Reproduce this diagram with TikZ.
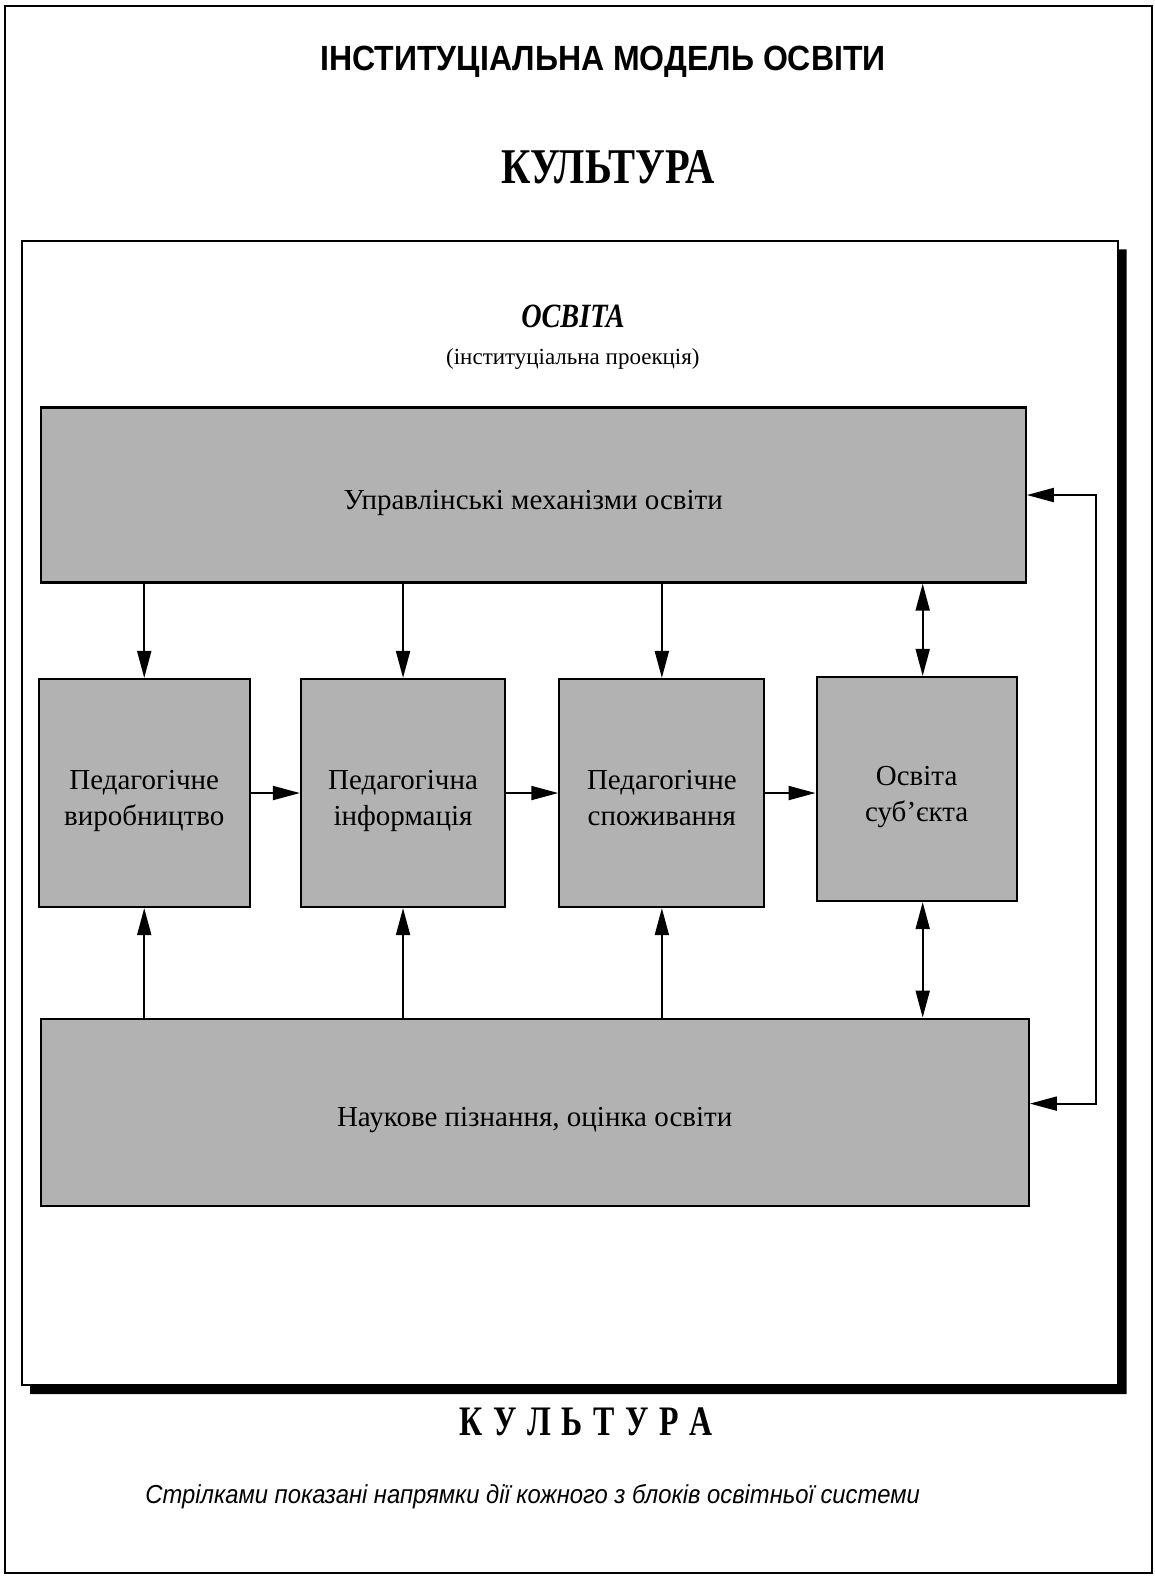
\documentclass[tikz,border=0pt]{standalone}
\usepackage{fontspec}
\usepackage{graphicx}
\setmainfont{Liberation Serif}
\newfontfamily\arialf{Liberation Sans}
\usetikzlibrary{arrows.meta}
\newcommand{\boxfont}{\fontsize{29}{36}\selectfont}
\newcommand{\lowtxt}[1]{\raisebox{-7pt}[\height][\depth]{\begin{tabular}{@{}c@{}}#1\end{tabular}}}
\begin{document}
\begin{tikzpicture}[x=1.005pt,y=-1.005pt,
  blk/.style={draw=black, line width=2.2pt, fill=black!30, inner sep=0pt, align=center, font=\boxfont},
  arr/.style={line width=1.9pt, -{Triangle[length=27pt,width=14pt]}},
  darr/.style={line width=1.9pt, {Triangle[length=27pt,width=14pt]}-{Triangle[length=27pt,width=14pt]}},
  lbl/.style={inner sep=0pt, anchor=base}]
\useasboundingbox (0,0) rectangle (1149,1568);
% outer frame
\draw[line width=1.6pt] (5,6) rectangle (1146,1565);
% inner frame with shadow
\fill[black] (30,1378) -- (1112,1378) -- (1112,248) -- (1121,248) -- (1121,1387) -- (30,1387) -- cycle;
\draw[line width=1.8pt] (22,240) rectangle (1112,1378);
% titles
\node[lbl] (title) at (600,70) {\scalebox{0.915}[1]{\arialf\bfseries\fontsize{35}{40}\selectfont ІНСТИТУЦІАЛЬНА МОДЕЛЬ ОСВІТИ}};
\node[lbl] (kult1) at (605,183) {\scalebox{0.81}[1]{\bfseries\fontsize{50}{56}\selectfont КУЛЬТУРА}};
\node[lbl] (osv) at (570,326) {\scalebox{0.83}[1]{\bfseries\itshape\fontsize{34}{40}\selectfont ОСВІТА}};
\node[lbl] (proj) at (570,363) {\fontsize{23}{28}\selectfont (інституціальна проекція)};
\node[lbl] (kult2) at (583,1428) {\scalebox{0.76}[1]{\bfseries\fontsize{42}{48}\selectfont К\kern14ptУ\kern14ptЛ\kern14ptЬ\kern14ptТ\kern14ptУ\kern14ptР\kern14ptА}};
\node[lbl] (note) at (530,1496) {\scalebox{0.915}[1]{\arialf\itshape\fontsize{26}{30}\selectfont Стрілками показані напрямки дії кожного з блоків освітньої системи}};
% blocks
\node[blk, minimum width=985pt, minimum height=175pt] (top) at (530.5,492.5) {\lowtxt{Управлінські механізми освіти}};
\node[blk, minimum width=211pt, minimum height=228pt] (p1) at (143.5,789) {\lowtxt{Педагогічне\\виробництво}};
\node[blk, minimum width=204pt, minimum height=228pt] (p2) at (401,789) {\lowtxt{Педагогічна\\інформація}};
\node[blk, minimum width=205pt, minimum height=228pt] (p3) at (658.5,789) {\lowtxt{Педагогічне\\споживання}};
\node[blk, minimum width=200pt, minimum height=224pt] (p4) at (912,785) {\lowtxt{Освіта\\суб'єкта}};
\node[blk, minimum width=988pt, minimum height=187pt] (bot) at (532,1106.5) {\lowtxt{Наукове пізнання, оцінка освіти}};
% top -> middle
\draw[arr] (top.south -| p1.north) -- (p1.north);
\draw[arr] (top.south -| p2.north) -- (p2.north);
\draw[arr] (top.south -| p3.north) -- (p3.north);
\draw[darr] (top.south -| 918,0) -- (p4.north -| 918,0);
% bottom -> middle
\draw[arr] (bot.north -| p1.south) -- (p1.south);
\draw[arr] (bot.north -| p2.south) -- (p2.south);
\draw[arr] (bot.north -| p3.south) -- (p3.south);
\draw[darr] (p4.south -| 918,0) -- (bot.north -| 918,0);
% horizontal chain
\draw[arr] (p1.east) -- (p2.west);
\draw[arr] (p2.east) -- (p3.west);
\draw[arr] (p3.east) -- (p4.west |- p3.east);
% feedback loop
\coordinate (fbT) at (1090,492.5);
\coordinate (fbB) at (1090,1098);
\draw[darr] (top.east) -- (fbT) -- (fbB) -- (bot.east |- fbB);
\end{tikzpicture}
\end{document}
